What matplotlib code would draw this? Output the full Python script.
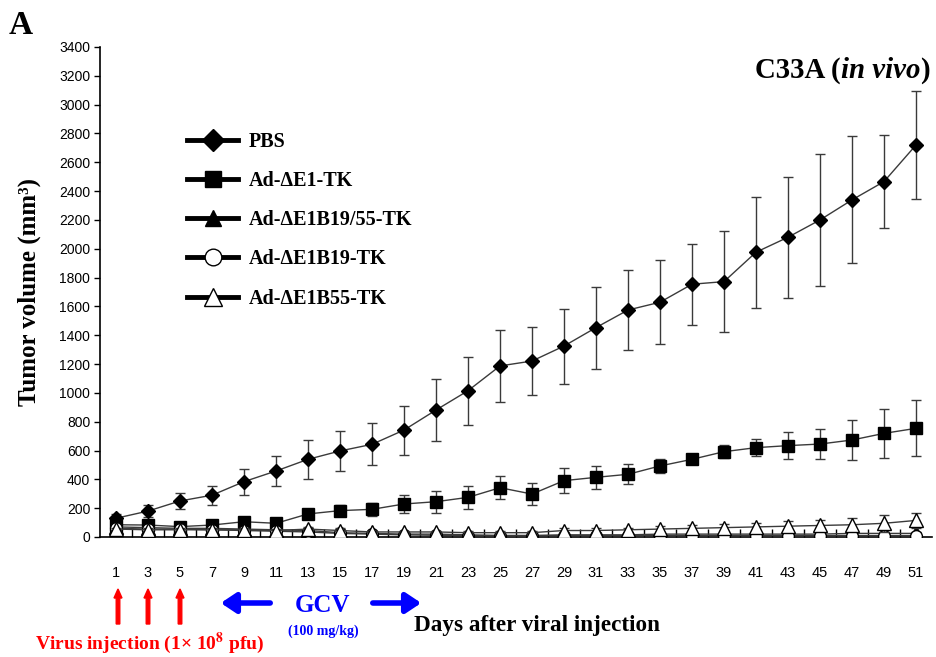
import matplotlib
matplotlib.use("Agg")
import matplotlib.pyplot as plt
from matplotlib.lines import Line2D
import matplotlib.patches as mpatches

days = list(range(1, 52, 2))

pbs = [130, 180, 250, 290, 384, 458, 539, 597, 643, 742, 881, 1015, 1187, 1221,
       1325, 1453, 1575, 1629, 1754, 1772, 1976, 2080, 2200, 2339, 2466, 2720]
pbs_err = [30, 40, 55, 65, 90, 105, 135, 140, 145, 170, 215, 237, 250, 235,
           260, 285, 280, 290, 280, 350, 385, 420, 460, 440, 320, 375]

e1 = [85, 83, 72, 83, 106, 95, 160, 183, 192, 229, 245, 275, 342, 298,
      391, 414, 435, 493, 539, 592, 620, 634, 645, 673, 719, 754]
e1_err = [15, 20, 20, 20, 20, 20, 25, 40, 45, 60, 75, 80, 80, 75,
          85, 80, 70, 50, 20, 45, 60, 95, 105, 138, 170, 195]

b1955 = [70, 65, 60, 60, 55, 50, 45, 30, 25, 20, 20, 15, 10, 10,
         15, 15, 15, 20, 20, 20, 20, 20, 20, 25, 25, 25]
b1955_err = [10, 10, 10, 10, 10, 10, 10, 8, 8, 8, 8, 8, 5, 5,
             5, 5, 5, 8, 8, 8, 8, 8, 8, 10, 10, 10]

b19 = [60, 55, 55, 50, 45, 40, 35, 25, 20, 15, 12, 10, 10, 10,
       10, 10, 10, 10, 10, 10, 10, 10, 10, 10, 10, 10]
b19_err = [10, 10, 10, 10, 8, 8, 8, 8, 5, 5, 5, 5, 5, 5,
           5, 5, 5, 5, 5, 5, 5, 5, 5, 5, 5, 5]

b55 = [55, 50, 50, 50, 50, 45, 55, 45, 35, 35, 35, 30, 30, 30,
       45, 45, 50, 55, 60, 65, 70, 75, 80, 85, 95, 115]
b55_err = [10, 10, 10, 10, 10, 10, 15, 15, 10, 10, 10, 10, 10, 10,
           15, 15, 15, 20, 20, 25, 30, 35, 40, 45, 60, 55]

labels = ["PBS", "Ad-ΔE1-TK", "Ad-ΔE1B19/55-TK", "Ad-ΔE1B19-TK", "Ad-ΔE1B55-TK"]
yticks = list(range(0, 3401, 200))

serif = "Liberation Serif"
sans = "Liberation Sans"

fig = plt.figure(figsize=(9.37, 6.57), dpi=100)
W, H = 937, 657
ax = fig.add_axes([100 / W, 1 - 537 / H, 832 / W, 490 / H])

series = [
    (pbs, pbs_err, dict(marker="D", ms=7.5, mfc="black", mec="black"), 11),
    (e1, e1_err, dict(marker="s", ms=8.5, mfc="black", mec="black"), 11),
    (b1955, b1955_err, dict(marker="^", ms=9.5, mfc="black", mec="black"), 12),
    (b19, b19_err, dict(marker="o", ms=8.5, mfc="white", mec="black", mew=1), 12),
    (b55, b55_err, dict(marker="^", ms=10, mfc="white", mec="black", mew=1), 13),
]
for i, (vals, errs, st, _) in enumerate(series):
    ax.errorbar(days, vals, yerr=errs, color="#3a3a3a", lw=1.0,
                ecolor="#3a3a3a", elinewidth=1.0, capsize=3.5, capthick=1.0,
                zorder=3 + i, **st)

ax.set_xlim(0, 52)
ax.set_ylim(0, 3400)
ax.set_yticks(yticks)
ax.set_yticklabels([str(v) for v in yticks], fontsize=10, family=sans)
ax.set_xticks(days)
ax.set_xticklabels([str(d) for d in days], fontsize=10.5, family=sans)
ax.set_xticks(list(range(2, 52, 2)), minor=True)
ax.tick_params(axis="x", which="major", length=0, pad=21)
ax.tick_params(axis="x", which="minor", direction="in", length=6, width=1)
ax.tick_params(axis="y", which="major", direction="out", length=4, width=1, pad=3)
for s in ["top", "right"]:
    ax.spines[s].set_visible(False)
for s in ["left", "bottom"]:
    ax.spines[s].set_linewidth(1.2)

ax.set_ylabel("Tumor volume (mm³)", family=serif, fontweight="bold", fontsize=18)
ax.yaxis.set_label_coords(-(100 - 41) / 832, 0.5)

# legend
handles = []
for vals, errs, st, lms in series:
    h = Line2D([], [], color="black", lw=3.5, **st)
    h.set_markersize(lms)
    handles.append(h)
leg = fig.legend(handles, labels, loc="upper left",
                 bbox_to_anchor=(177 / W, 1 - 122 / H), frameon=False,
                 prop=dict(family=serif, weight="bold", size=14.5),
                 handlelength=2.55, handletextpad=0.5, labelspacing=0.95,
                 borderpad=0, numpoints=1)

fig.text(9 / W, 1 - 26 / H, "A", family=serif, fontweight="bold", fontsize=24,
         va="center", ha="left")

# title built from pieces
renderer = fig.canvas.get_renderer()
ty = 1 - 71 / H
tfs = 20.8
t3 = fig.text(930 / W, ty, ")", family=serif, fontweight="bold", fontsize=tfs,
              ha="right", va="center")
bb3 = t3.get_window_extent(renderer)
t2 = fig.text(bb3.x0 / W, ty, "in vivo", family=serif, fontweight="bold",
              fontstyle="italic", fontsize=tfs, ha="right", va="center")
bb2 = t2.get_window_extent(renderer)
t1 = fig.text(bb2.x0 / W, ty, "C33A (", family=serif, fontweight="bold",
              fontsize=tfs, ha="right", va="center")

# virus injection arrows
for xp in [118, 148, 180]:
    fig.add_artist(mpatches.FancyArrow(
        xp / W, 1 - 624 / H, 0, 35 / H, width=2.5 / H, head_width=8 / W,
        head_length=9 / H, color="red", length_includes_head=True,
        transform=fig.transFigure))

fig.text(150 / W, 1 - 643 / H, "Virus injection (1× 10$^{\\mathbf{8}}$ pfu)",
         family=serif, fontweight="bold", fontsize=14, color="red",
         ha="center", va="center", math_fontfamily="stix")

# GCV arrows
arr = dict(arrowstyle="-|>,head_length=0.6,head_width=0.4", color="blue", lw=4)
fig.add_artist(mpatches.FancyArrowPatch(
    (273 / W, 1 - 603 / H), (218 / W, 1 - 603 / H), transform=fig.transFigure,
    mutation_scale=15, **arr))
fig.add_artist(mpatches.FancyArrowPatch(
    (370 / W, 1 - 603 / H), (424 / W, 1 - 603 / H), transform=fig.transFigure,
    mutation_scale=15, **arr))
fig.text(323 / W, 1 - 606 / H, "GCV", family=serif, fontweight="bold",
         fontsize=18, color="blue", ha="center", va="center")
fig.text(323 / W, 1 - 631 / H, "(100 mg/kg)", family=serif, fontweight="bold",
         fontsize=10, color="blue", ha="center", va="center")
fig.text(414 / W, 1 - 625 / H, "Days after viral injection", family=serif,
         fontweight="bold", fontsize=16.7, color="black", ha="left", va="center")

fig.savefig("out.png", dpi=100)
